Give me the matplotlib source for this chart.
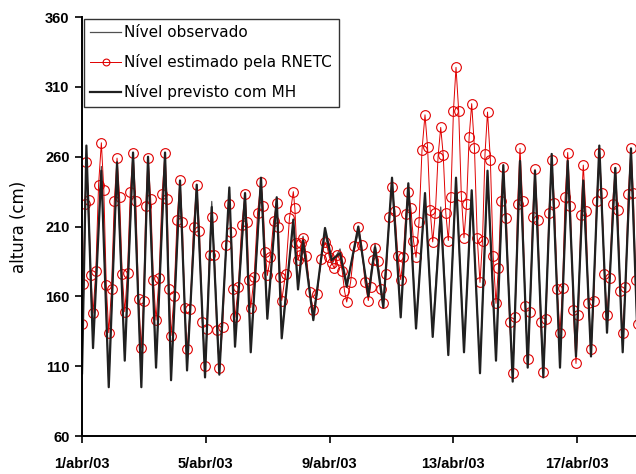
import numpy as np
import matplotlib.pyplot as plt

# tide turning points (days since 1/abr/03 00h)
t_ext = [0.0, 0.14, 0.355, 0.624, 0.863, 1.131, 1.380, 1.648, 1.916, 2.132,
         2.391, 2.682, 2.876, 3.166, 3.393, 3.706, 3.974, 4.191, 4.436, 4.759,
         4.943, 5.267, 5.451, 5.783, 5.987, 6.291, 6.452, 6.827, 6.979, 7.141,
         7.473, 7.851, 8.068, 8.336, 8.552, 8.927, 9.250, 9.467, 9.735, 10.016,
         10.297, 10.543, 10.792, 11.082, 11.331, 11.590, 11.835, 12.084, 12.342, 12.591,
         12.859, 13.102, 13.376, 13.612, 13.916, 14.152, 14.401, 14.636, 14.905, 15.176,
         15.444, 15.693, 15.961, 16.197, 16.446, 16.714, 16.963, 17.231, 17.470, 17.738,
         17.964]

nivel_mh = [105, 268, 123, 250, 95, 256, 114, 263, 95, 260,
            109, 263, 100, 243, 107, 240, 102, 224, 104, 238,
            124, 234, 120, 245, 144, 231, 130, 215, 165, 200,
            143, 209, 186, 191, 167, 210, 160, 195, 152, 245,
            145, 241, 137, 234, 131, 220, 118, 245, 120, 236,
            105, 250, 114, 254, 99, 257, 109, 250, 102, 262,
            109, 257, 117, 243, 117, 268, 134, 252, 120, 266,
            120]

nivel_obs = [110, 262, 126, 253, 98, 252, 117, 259, 99, 256,
             112, 259, 104, 240, 110, 236, 106, 228, 107, 235,
             127, 230, 124, 241, 147, 228, 134, 212, 168, 203,
             146, 205, 183, 194, 170, 206, 163, 198, 156, 241,
             149, 238, 141, 230, 135, 224, 122, 241, 124, 232,
             109, 246, 118, 250, 103, 253, 113, 246, 106, 258,
             113, 253, 120, 240, 120, 264, 137, 249, 123, 262,
             123]

# RNETC estimate: value at each turning point + two readings on each limb
rnetc_ext = [140, 256, 148, 270, 134, 259, 149, 263, 123, 259,
             143, 263, 132, 243, 122, 240, 110, 217, 109, 226,
             145, 233, 152, 242, 175, 227, 157, 235, 186, 202,
             150, 199, 184, 186, 156, 210, 157, 195, 155, 238,
             172, 235, 188, 290, 199, 281, 200, 324, 202, 298,
             170, 292, 155, 253, 105, 266, 115, 251, 106, 258,
             134, 263, 112, 254, 122, 263, 147, 252, 134, 266,
             140]
rnetc_mid = [(169, 226), (229, 175), (178, 240), (236, 168), (165, 228), (231, 176), (177, 235), (228, 158), (157, 225), (230, 172),
             (173, 233), (230, 165), (160, 215), (213, 152), (151, 210), (207, 142), (137, 190), (190, 136), (138, 197), (206, 165),
             (167, 211), (213, 172), (174, 220), (225, 192), (188, 214), (210, 174), (176, 216), (223, 198), (190, 198), (189, 163),
             (162, 187), (195, 188), (180, 190), (178, 164), (170, 196), (197, 170), (167, 186), (185, 165), (176, 217), (221, 189),
             (188, 219), (223, 200), (213, 265), (267, 222), (220, 260), (261, 220), (231, 293), (293, 232), (226, 274), (266, 202),
             (200, 262), (258, 189), (180, 228), (216, 142), (145, 226), (228, 153), (149, 217), (215, 142), (144, 220), (227, 165),
             (166, 231), (225, 150), (147, 218), (221, 155), (157, 228), (234, 176), (173, 226), (222, 164), (167, 233), (234, 172)]

tick_days = [0, 4, 8, 12, 16]
tick_labels = ['1/abr/03', '5/abr/03', '9/abr/03', '13/abr/03', '17/abr/03']

# build the RNETC sample sequence
t_red, v_red = [], []
for i in range(len(rnetc_mid)):
    tt = np.linspace(t_ext[i], t_ext[i + 1], 4)[:-1]
    t_red += list(tt)
    v_red += [rnetc_ext[i], rnetc_mid[i][0], rnetc_mid[i][1]]
t_red.append(t_ext[-1])
v_red.append(rnetc_ext[-1])

fig = plt.figure(figsize=(6.36, 4.74), dpi=100)
ax = fig.add_axes([0.129, 0.080, 0.871, 0.884])

ax.plot(t_ext, nivel_obs, color='#505050', lw=0.9, label='Nível observado')
ax.plot(t_red, v_red, color='#e00000', lw=0.7, marker='o', ms=7,
        mfc='none', mec='#e00000', mew=0.8, label='Nível estimado pela RNETC')
ax.plot(t_ext, nivel_mh, color='#202020', lw=1.6, label='Nível previsto com MH')

ax.set_xlim(0, 17.9)
ax.set_ylim(60, 360)
ax.set_yticks(range(60, 361, 50))
ax.set_xticks(tick_days)
ax.set_xticklabels(tick_labels)

for s in ['top', 'right']:
    ax.spines[s].set_visible(False)
for s in ['left', 'bottom']:
    ax.spines[s].set_linewidth(1.4)
ax.tick_params(direction='out', length=5, width=1.2, pad=4)
for lab in ax.get_xticklabels() + ax.get_yticklabels():
    lab.set_fontfamily('Liberation Sans')
    lab.set_fontweight('bold')
    lab.set_fontsize(10.5)
ax.tick_params(axis='x', pad=10)

ax.set_ylabel('altura (cm)', fontsize=12, labelpad=12)

leg = ax.legend(loc='upper left', bbox_to_anchor=(0.0, 1.0), fontsize=11,
                frameon=True, fancybox=False, edgecolor='black',
                handlelength=2.0, handletextpad=0.2, labelspacing=0.9,
                borderaxespad=0.1, borderpad=0.45, markerscale=0.7)
leg.get_frame().set_linewidth(1.0)

fig.savefig('out.png', dpi=100)
